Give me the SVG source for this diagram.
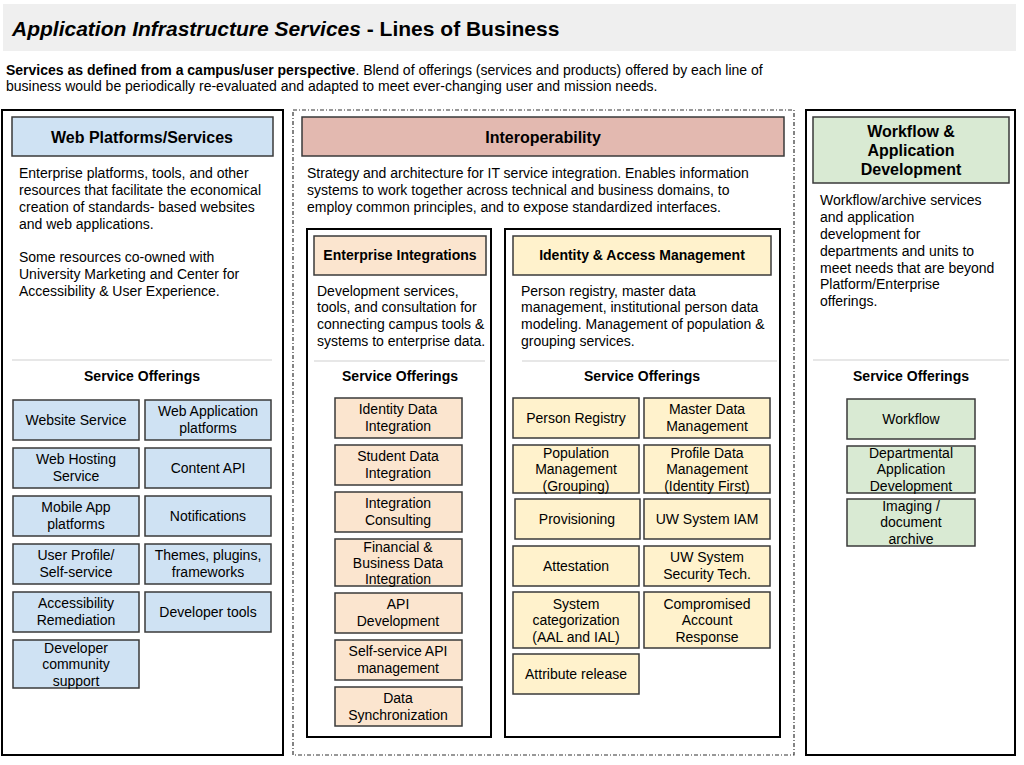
<svg xmlns="http://www.w3.org/2000/svg" width="1024" height="765" viewBox="0 0 1024 765">
<style>
text{font-family:"Liberation Sans",Arial,sans-serif;font-size:14px;fill:#000}
.c{text-anchor:middle}
.b{font-weight:bold}
.h{font-size:16px;font-weight:bold;text-anchor:middle}
.outer{fill:#fff;stroke:#000;stroke-width:2}
.sep{stroke:#d0d0d0;stroke-width:1.2}
.bx{stroke:#3a3a3a;stroke-width:1.5}
.blue{fill:#cfe2f3}
.pink{fill:#e3b9b0}
.peach{fill:#fbe5cf}
.yel{fill:#fff2cc}
.grn{fill:#d9ead3}
</style>
<rect width="1024" height="765" fill="#fff"/>
<g id="title">
<rect x="3" y="4" width="1013" height="47" fill="#efefef"/>
<text x="12" y="36" style="font-size:21px;font-weight:bold"><tspan font-style="italic">Application Infrastructure Services</tspan> - Lines of Business</text>
</g>
<g id="subtitle">
<text x="6" y="75" style="font-size:14px"><tspan font-weight="bold">Services as defined from a campus/user perspective</tspan>. Blend of offerings (services and products) offered by each line of</text>
<text x="6" y="91" style="font-size:14px">business would be periodically re-evaluated and adapted to meet ever-changing user and mission needs.</text>
</g>

<g id="web-platforms">
<rect class="outer" x="2" y="110" width="281" height="645"/>
<rect class="bx blue" x="12" y="117" width="261" height="39"/>
<text class="h" x="142" y="143">Web Platforms/Services</text>
<text x="19" y="178">Enterprise platforms, tools, and other</text>
<text x="19" y="195">resources that facilitate the economical</text>
<text x="19" y="212">creation of standards- based websites</text>
<text x="19" y="229">and web applications.</text>
<text x="19" y="262">Some resources co-owned with</text>
<text x="19" y="279">University Marketing and Center for</text>
<text x="19" y="296">Accessibility &amp; User Experience.</text>
<line class="sep" x1="12" y1="360" x2="272" y2="360"/>
<text class="c b" x="142" y="381">Service Offerings</text>
</g>
<g id="wp-website"><rect class="bx blue" x="13" y="400" width="126" height="40"/><text class="c" x="76" y="425">Website Service</text></g>
<g id="wp-webapp"><rect class="bx blue" x="145" y="400" width="126" height="40"/><text class="c" x="208" y="416">Web Application</text><text class="c" x="208" y="433">platforms</text></g>
<g id="wp-hosting"><rect class="bx blue" x="13" y="448" width="126" height="40"/><text class="c" x="76" y="464">Web Hosting</text><text class="c" x="76" y="481">Service</text></g>
<g id="wp-content"><rect class="bx blue" x="145" y="448" width="126" height="40"/><text class="c" x="208" y="473">Content API</text></g>
<g id="wp-mobile"><rect class="bx blue" x="13" y="496" width="126" height="40"/><text class="c" x="76" y="512">Mobile App</text><text class="c" x="76" y="529">platforms</text></g>
<g id="wp-notif"><rect class="bx blue" x="145" y="496" width="126" height="40"/><text class="c" x="208" y="521">Notifications</text></g>
<g id="wp-profile"><rect class="bx blue" x="13" y="544" width="126" height="40"/><text class="c" x="76" y="560">User Profile/</text><text class="c" x="76" y="577">Self-service</text></g>
<g id="wp-themes"><rect class="bx blue" x="145" y="544" width="126" height="40"/><text class="c" x="208" y="560">Themes, plugins,</text><text class="c" x="208" y="577">frameworks</text></g>
<g id="wp-access"><rect class="bx blue" x="13" y="592" width="126" height="40"/><text class="c" x="76" y="608">Accessibility</text><text class="c" x="76" y="625">Remediation</text></g>
<g id="wp-devtools"><rect class="bx blue" x="145" y="592" width="126" height="40"/><text class="c" x="208" y="617">Developer tools</text></g>
<g id="wp-community"><rect class="bx blue" x="13" y="640" width="126" height="48"/><text class="c" x="76" y="653">Developer</text><text class="c" x="76" y="669">community</text><text class="c" x="76" y="686">support</text></g>

<g id="interoperability">
<rect x="293" y="110" width="501" height="645" fill="#fff" stroke="#333" stroke-width="1.2" stroke-dasharray="4,2,1,2"/>
<rect class="bx pink" x="302" y="117" width="482" height="39"/>
<text class="h" x="543" y="143">Interoperability</text>
<text x="307" y="178">Strategy and architecture for IT service integration. Enables information</text>
<text x="307" y="195">systems to work together across technical and business domains, to</text>
<text x="307" y="212">employ common principles, and to expose standardized interfaces.</text>
</g>

<g id="enterprise-integrations">
<rect class="outer" x="307" y="229" width="184" height="508"/>
<rect class="bx peach" x="314" y="236" width="172" height="39"/>
<text class="c b" x="400" y="260">Enterprise Integrations</text>
<text x="317" y="296">Development services,</text>
<text x="317" y="312">tools, and consultation for</text>
<text x="317" y="329">connecting campus tools &amp;</text>
<text x="317" y="346">systems to enterprise data.</text>
<line class="sep" x1="314" y1="361" x2="485" y2="361"/>
<text class="c b" x="400" y="381">Service Offerings</text>
</g>
<g id="ei-identity"><rect class="bx peach" x="335" y="398" width="127" height="40"/><text class="c" x="398" y="414">Identity Data</text><text class="c" x="398" y="431">Integration</text></g>
<g id="ei-student"><rect class="bx peach" x="335" y="445" width="127" height="40"/><text class="c" x="398" y="461">Student Data</text><text class="c" x="398" y="478">Integration</text></g>
<g id="ei-consult"><rect class="bx peach" x="335" y="492" width="127" height="40"/><text class="c" x="398" y="508">Integration</text><text class="c" x="398" y="525">Consulting</text></g>
<g id="ei-financial"><rect class="bx peach" x="335" y="539" width="127" height="47"/><text class="c" x="398" y="552">Financial &amp;</text><text class="c" x="398" y="568">Business Data</text><text class="c" x="398" y="584">Integration</text></g>
<g id="ei-api"><rect class="bx peach" x="335" y="593" width="127" height="40"/><text class="c" x="398" y="609">API</text><text class="c" x="398" y="626">Development</text></g>
<g id="ei-selfapi"><rect class="bx peach" x="335" y="640" width="127" height="40"/><text class="c" x="398" y="656">Self-service API</text><text class="c" x="398" y="673">management</text></g>
<g id="ei-sync"><rect class="bx peach" x="335" y="687" width="127" height="39"/><text class="c" x="398" y="703">Data</text><text class="c" x="398" y="720">Synchronization</text></g>

<g id="iam">
<rect class="outer" x="505" y="229" width="275" height="508"/>
<rect class="bx yel" x="513" y="236" width="258" height="39"/>
<text class="c b" x="642" y="260">Identity &amp; Access Management</text>
<text x="521" y="296">Person registry, master data</text>
<text x="521" y="312">management, institutional person data</text>
<text x="521" y="329">modeling. Management of population &amp;</text>
<text x="521" y="346">grouping services.</text>
<line class="sep" x1="522" y1="361" x2="777" y2="361"/>
<text class="c b" x="642" y="381">Service Offerings</text>
</g>
<g id="iam-registry"><rect class="bx yel" x="513" y="398" width="126" height="40"/><text class="c" x="576" y="423">Person Registry</text></g>
<g id="iam-mdm"><rect class="bx yel" x="644" y="398" width="126" height="40"/><text class="c" x="707" y="414">Master Data</text><text class="c" x="707" y="431">Management</text></g>
<g id="iam-population"><rect class="bx yel" x="513" y="445" width="126" height="48"/><text class="c" x="576" y="458">Population</text><text class="c" x="576" y="474">Management</text><text class="c" x="576" y="491">(Grouping)</text></g>
<g id="iam-profile"><rect class="bx yel" x="644" y="445" width="126" height="48"/><text class="c" x="707" y="458">Profile Data</text><text class="c" x="707" y="474">Management</text><text class="c" x="707" y="491">(Identity First)</text></g>
<g id="iam-prov"><rect class="bx yel" x="515" y="499" width="125" height="40"/><text class="c" x="577" y="524">Provisioning</text></g>
<g id="iam-uwiam"><rect class="bx yel" x="644" y="499" width="126" height="40"/><text class="c" x="707" y="524">UW System IAM</text></g>
<g id="iam-attest"><rect class="bx yel" x="513" y="546" width="126" height="40"/><text class="c" x="576" y="571">Attestation</text></g>
<g id="iam-sec"><rect class="bx yel" x="644" y="546" width="126" height="40"/><text class="c" x="707" y="562">UW System</text><text class="c" x="707" y="579">Security Tech.</text></g>
<g id="iam-syscat"><rect class="bx yel" x="513" y="592" width="126" height="56"/><text class="c" x="576" y="609">System</text><text class="c" x="576" y="625">categorization</text><text class="c" x="576" y="642">(AAL and IAL)</text></g>
<g id="iam-compromised"><rect class="bx yel" x="644" y="592" width="126" height="56"/><text class="c" x="707" y="609">Compromised</text><text class="c" x="707" y="625">Account</text><text class="c" x="707" y="642">Response</text></g>
<g id="iam-attr"><rect class="bx yel" x="513" y="654" width="126" height="40"/><text class="c" x="576" y="679">Attribute release</text></g>

<g id="workflow">
<rect class="outer" x="806" y="110" width="209" height="645"/>
<rect class="bx grn" x="813" y="117" width="196" height="66"/>
<text class="h" x="911" y="137">Workflow &amp;</text>
<text class="h" x="911" y="156">Application</text>
<text class="h" x="911" y="175">Development</text>
<text x="820" y="205">Workflow/archive services</text>
<text x="820" y="222">and application</text>
<text x="820" y="239">development for</text>
<text x="820" y="256">departments and units to</text>
<text x="820" y="273">meet needs that are beyond</text>
<text x="820" y="289">Platform/Enterprise</text>
<text x="820" y="306">offerings.</text>
<line class="sep" x1="813" y1="360" x2="1009" y2="360"/>
<text class="c b" x="911" y="381">Service Offerings</text>
</g>
<g id="wf-workflow"><rect class="bx grn" x="847" y="399" width="128" height="40"/><text class="c" x="911" y="424">Workflow</text></g>
<g id="wf-dept"><rect class="bx grn" x="847" y="446" width="128" height="47"/><text class="c" x="911" y="458">Departmental</text><text class="c" x="911" y="474">Application</text><text class="c" x="911" y="491">Development</text></g>
<g id="wf-imaging"><rect class="bx grn" x="847" y="499" width="128" height="47"/><text class="c" x="911" y="511">Imaging /</text><text class="c" x="911" y="527">document</text><text class="c" x="911" y="544">archive</text></g>

<g id="connectors"></g>
</svg>
